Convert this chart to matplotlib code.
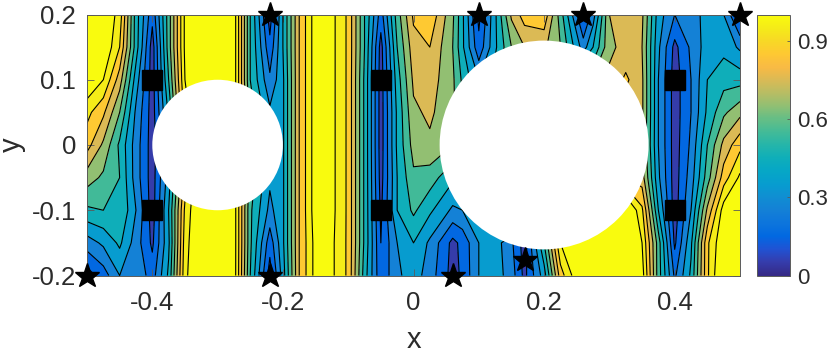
import matplotlib
matplotlib.use("Agg")
import matplotlib.pyplot as plt
import matplotlib.patches as mpatches
from matplotlib.colors import LinearSegmentedColormap, Normalize
from matplotlib.cm import ScalarMappable
import numpy as np

plt.rcParams["font.family"] = ["Liberation Sans", "DejaVu Sans"]

# parula, every few entries of the 64 colour table
parula = [
    (0.2081, 0.1663, 0.5292), (0.2081, 0.2386, 0.6771), (0.1253, 0.3242, 0.8303),
    (0.0060, 0.4086, 0.8828), (0.0498, 0.4586, 0.8641), (0.0779, 0.5040, 0.8384),
    (0.0641, 0.5570, 0.8240), (0.0265, 0.6137, 0.8135), (0.0228, 0.6535, 0.7768),
    (0.0590, 0.6838, 0.7254), (0.1453, 0.7098, 0.6646), (0.2586, 0.7317, 0.5954),
    (0.3953, 0.7459, 0.5244), (0.5709, 0.7485, 0.4494), (0.7184, 0.7411, 0.3905),
    (0.8507, 0.7299, 0.3360), (0.9739, 0.7314, 0.2666), (0.9955, 0.7861, 0.1967),
    (0.9697, 0.8481, 0.1475), (0.9598, 0.9218, 0.0948), (0.9763, 0.9831, 0.0538),
]

x_grid = [-0.5, -0.475, -0.45, -0.425, -0.4, -0.375, -0.35, -0.325, -0.3, -0.275,
          -0.25, -0.22, -0.2, -0.175, -0.15, -0.125, -0.1, -0.075, -0.05, -0.025,
          0.0, 0.025, 0.06, 0.075, 0.1, 0.125, 0.15, 0.17, 0.2, 0.225,
          0.26, 0.275, 0.3, 0.325, 0.35, 0.375, 0.4, 0.425, 0.45, 0.475, 0.5]
y_grid = [0.2, 0.15, 0.1, 0.05, 0.0, -0.05, -0.1, -0.15, -0.2]

row_p20 = [1.1, 1.1, .96, .45, .13, .55, 1.02, 1.15, 1.15, 1.06,
           .50, .05, .40, .80, 1.06, 1.03, .88, .50, .15, .55,
           .82, .88, .62, .42, .07, .38, .72, .85, .87, .55,
           .07, .25, .70, .75, .72, .35, .20, .25, .34, .30, .05]
row_p15 = [1.1, 1.1, .90, .45, .05, .55, 1.02, 1.15, 1.15, 1.06,
           .50, .13, .40, .80, 1.06, 1.03, .88, .50, .06, .50,
           .76, .80, .60, .42, .13, .38, .60, .70, .72, .60,
           .25, .40, .68, .73, .70, .32, .07, .22, .35, .37, .28]
row_p10 = [1.1, 1.0, .75, .35, .05, .50, 1.0, 1.15, 1.15, 1.06,
           .50, .22, .38, .80, 1.06, 1.03, .88, .48, .05, .45,
           .72, .75, .62, .48, .30, .45, .60, .70, .70, .65,
           .60, .62, .72, .82, .72, .30, .05, .20, .40, .46, .46]
row_p05 = [.93, .82, .60, .28, .05, .42, .95, 1.15, 1.15, 1.06,
           .55, .32, .38, .80, 1.06, 1.03, .88, .48, .05, .42,
           .68, .72, .62, .52, .50, .55, .60, .65, .68, .68,
           .68, .70, .72, .74, .72, .30, .05, .20, .42, .58, .67]
row_0 = [.84, .68, .48, .25, .05, .30, .70, 1.0, 1.1, 1.0,
         .55, .32, .38, .80, 1.06, 1.03, .88, .48, .05, .42,
         .64, .68, .60, .52, .50, .50, .52, .55, .60, .62,
         .65, .68, .70, .72, .70, .30, .05, .22, .50, .73, .87]
row_m05 = [.65, .58, .50, .25, .05, .35, .85, 1.15, 1.15, 1.06,
           .55, .32, .38, .80, 1.06, 1.03, .88, .48, .06, .40,
           .58, .55, .42, .40, .40, .45, .50, .55, .60, .65,
           .70, .72, .75, .80, .75, .32, .05, .25, .55, .85, 1.02]
row_m10 = [.48, .50, .50, .30, .05, .40, .92, 1.15, 1.15, 1.06,
           .52, .27, .38, .80, 1.06, 1.03, .88, .48, .08, .40,
           .52, .42, .28, .30, .40, .50, .60, .70, .80, .90,
           1.0, 1.05, 1.1, 1.15, .92, .40, .05, .30, .72, 1.05, 1.15]
row_m15 = [.25, .32, .42, .25, .08, .38, .95, 1.15, 1.15, 1.06,
           .52, .14, .38, .80, 1.04, 1.02, .88, .48, .10, .30,
           .40, .28, .07, .13, .30, .35, .22, .05, .50, 1.0,
           1.15, 1.15, 1.15, 1.15, 1.0, .55, .08, .38, .88, 1.1, 1.15]
row_m20 = [.05, .15, .30, .28, .15, .42, .97, 1.15, 1.15, 1.06,
           .50, .05, .35, .80, 1.04, 1.02, .88, .45, .12, .28,
           .35, .25, .06, .12, .30, .35, .25, .07, .35, .85,
           1.15, 1.15, 1.15, 1.15, 1.05, .55, .18, .42, .88, 1.15, 1.15]

z_rows = [row_p20, row_p15, row_p10, row_p05, row_0, row_m05, row_m10, row_m15, row_m20]
levels = [0, .1, .2, .3, .4, .5, .6, .7, .8, .9, 1.0, 1.3]

circle_x = [-0.3, 0.2]
circle_r = [0.1, 0.16]
square_x = [-0.4, -0.4, -0.05, -0.05, 0.4, 0.4]
square_y = [0.1, -0.1, 0.1, -0.1, 0.1, -0.1]
star_x = [-0.5, -0.22, -0.22, 0.06, 0.1, 0.17, 0.26, 0.5]
star_y = [-0.2, 0.2, -0.2, -0.2, 0.2, -0.177, 0.2, 0.2]

cmap = LinearSegmentedColormap.from_list("parula", parula, N=256)
norm = Normalize(0, 1)
gray = "#5a5a5a"
label_color = "#2b2b2b"

fig = plt.figure(figsize=(8.3, 3.51), dpi=100)
ax = fig.add_axes([87 / 830, 1 - 275.5 / 351, 653 / 830, 261 / 351])

X, Y = np.meshgrid(x_grid, y_grid)
Z = np.array(z_rows)
ax.contourf(X, Y, Z, levels=levels, cmap=cmap, norm=norm)
ax.contour(X, Y, Z, levels=levels[:-1], colors="black", linewidths=0.8)

for cx, r in zip(circle_x, circle_r):
    ax.add_patch(mpatches.Circle((cx, 0), r, facecolor="white", edgecolor="none", zorder=3))

ax.plot(square_x, square_y, "s", color="black", markersize=14.5, linestyle="none", zorder=4)
ax.plot(star_x, star_y, "*", color="black", markersize=18.5, linestyle="none", zorder=5, clip_on=False)

ax.set_xlim(-0.5, 0.5)
ax.set_ylim(-0.2, 0.2)
ax.set_xticks([-0.4, -0.2, 0, 0.2, 0.4])
ax.set_xticklabels(["-0.4", "-0.2", "0", "0.2", "0.4"])
ax.set_yticks([-0.2, -0.1, 0, 0.1, 0.2])
ax.set_yticklabels(["-0.2", "-0.1", "0", "0.1", "0.2"])
ax.tick_params(direction="in", length=4.7, width=0.6, color=gray, labelsize=18.5,
               labelcolor=label_color, top=True, right=True)
ax.tick_params(axis="x", pad=11)
ax.tick_params(axis="y", pad=8)
ax.set_xlabel("x", fontsize=21, color=label_color, labelpad=8)
ax.set_ylabel("y", fontsize=21, color=label_color, labelpad=4)
for s in ax.spines.values():
    s.set_color(gray)
    s.set_linewidth(0.7)

cax = fig.add_axes([756.5 / 830, 1 - 275.5 / 351, 33.5 / 830, 261 / 351])
cb = fig.colorbar(ScalarMappable(norm=norm, cmap=cmap), cax=cax)
cb.set_ticks([0, 0.3, 0.6, 0.9])
cb.set_ticklabels(["0", "0.3", "0.6", "0.9"])
cax.tick_params(direction="in", length=2.5, width=0.6, color=gray, labelsize=16,
                labelcolor=label_color, pad=5)
cb.outline.set_edgecolor(gray)
cb.outline.set_linewidth(0.7)

fig.savefig("out.png", dpi=100)
plt.close()
